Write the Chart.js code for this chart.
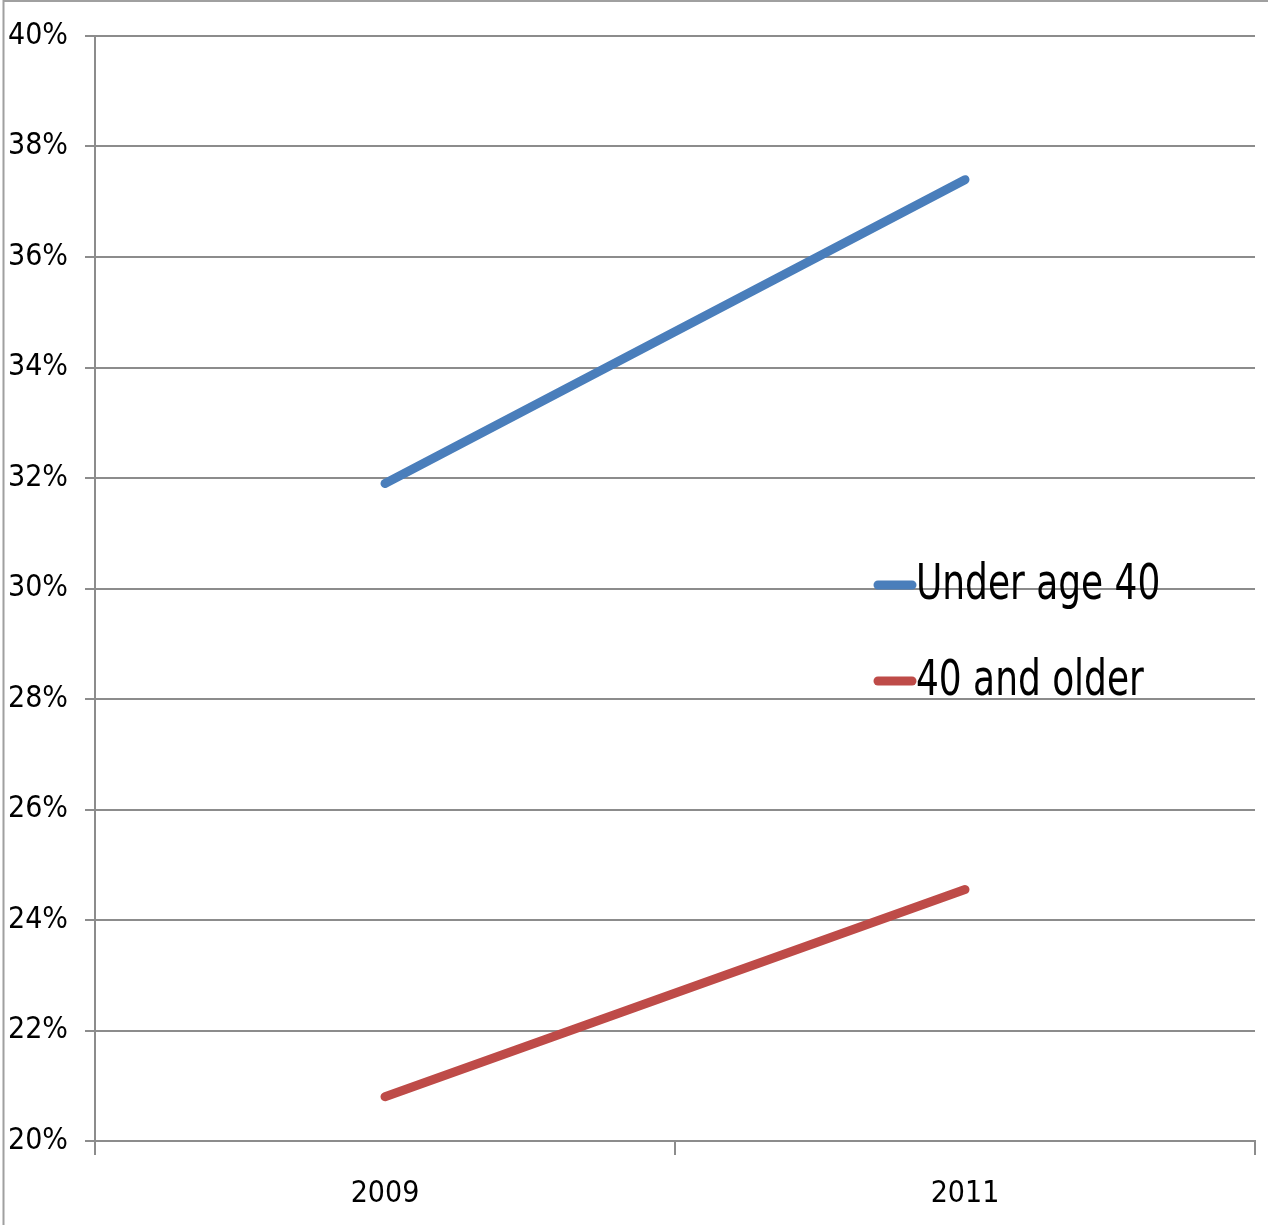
<!DOCTYPE html>
<html>
<head>
<meta charset="utf-8">
<script src="https://cdn.jsdelivr.net/npm/chart.js@4/dist/chart.umd.min.js"></script>
<style>
html,body{margin:0;padding:0;background:#fff;}
#wrap{position:relative;width:1268px;height:1225px;}
</style>
</head>
<body>
<div id="wrap"><canvas id="c" width="1268" height="1225"></canvas></div>
<script>
const categories = ["2009", "2011"];
const underAge40 = [31.9, 37.4];
const age40AndOlder = [20.8, 24.55];
const seriesLabels = ["Under age 40", "40 and older"];
const yMin = 20, yMax = 40, yStep = 2;

const FONT = "'Liberation Sans Narrow', 'DejaVu Sans Condensed', 'Liberation Sans', sans-serif";

const frame = {
  id: 'frame',
  afterDraw(chart) {
    const ctx = chart.ctx;
    ctx.save();
    ctx.strokeStyle = '#a0a0a0';
    ctx.lineWidth = 2;
    ctx.beginPath();
    ctx.moveTo(3.5, 1225);
    ctx.lineTo(3.5, 1);
    ctx.lineTo(1268, 1);
    ctx.stroke();
    ctx.restore();
  }
};

const insideLegend = {
  id: 'insideLegend',
  afterDraw(chart) {
    const ctx = chart.ctx;
    const ys = [585, 681];
    ctx.save();
    chart.data.datasets.forEach((ds, i) => {
      const y = ys[i];
      ctx.strokeStyle = ds.borderColor;
      ctx.lineWidth = 9;
      ctx.lineCap = 'round';
      ctx.beginPath();
      ctx.moveTo(878, y);
      ctx.lineTo(912, y);
      ctx.stroke();
      ctx.save();
      ctx.translate(916, y + 1);
      ctx.scale(0.815, 1);
      ctx.fillStyle = '#000';
      ctx.font = '49px ' + FONT;
      ctx.textBaseline = 'middle';
      ctx.textAlign = 'left';
      ctx.fillText(ds.label, 0, 0);
      ctx.restore();
    });
    ctx.restore();
  }
};

new Chart(document.getElementById('c'), {
  type: 'line',
  data: {
    labels: categories,
    datasets: [
      { label: seriesLabels[0], data: underAge40, borderColor: '#4a7ebb', backgroundColor: '#4a7ebb',
        borderWidth: 9, borderCapStyle: 'round', pointRadius: 0, tension: 0, fill: false },
      { label: seriesLabels[1], data: age40AndOlder, borderColor: '#be4b48', backgroundColor: '#be4b48',
        borderWidth: 9, borderCapStyle: 'round', pointRadius: 0, tension: 0, fill: false }
    ]
  },
  options: {
    responsive: false,
    animation: false,
    layout: { padding: { top: 36, right: 13, left: 0, bottom: 0 } },
    plugins: { legend: { display: false }, tooltip: { enabled: false } },
    scales: {
      x: {
        offset: true,
        grid: { offset: true, drawOnChartArea: false, drawTicks: true, tickLength: 14, color: '#8c8c8c', lineWidth: 2 },
        border: { display: true, color: '#8c8c8c', width: 2 },
        ticks: { font: { family: FONT, size: 30 }, color: '#000', padding: 21, maxRotation: 0 },
        afterFit(s) { s.height = 84; }
      },
      y: {
        min: yMin, max: yMax,
        grid: { color: '#8c8c8c', lineWidth: 2, tickLength: 10 },
        border: { display: true, color: '#8c8c8c', width: 2 },
        ticks: { stepSize: yStep, font: { family: FONT, size: 30 }, color: '#000', padding: 17,
          callback: v => v + '%' },
        afterFit(s) { s.width = 95; }
      }
    }
  },
  plugins: [frame, insideLegend]
});
</script>
</body>
</html>
